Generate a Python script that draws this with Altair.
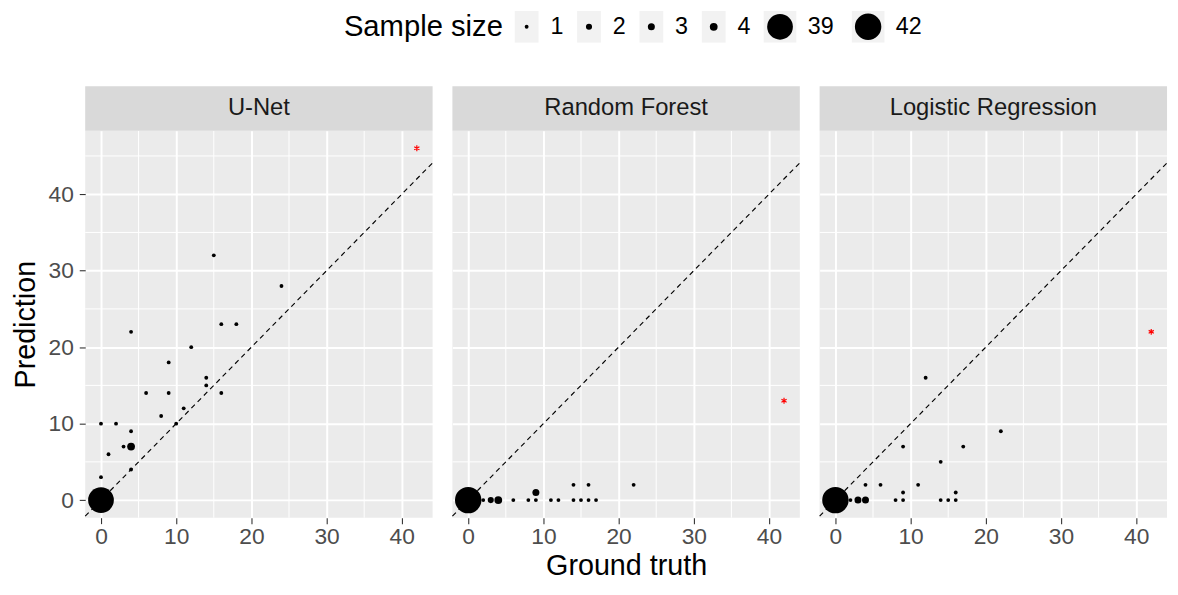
import altair as alt
import pandas as pd

FONT = "Liberation Sans"

models = ["U-Net", "Random Forest", "Logistic Regression"]

# U-Net
unet_gt   = [0, 0, 0, 1, 2, 3, 4, 4, 4, 4, 6, 8, 9, 9, 10, 11, 12, 14, 14, 15, 16, 16, 18, 24]
unet_pred = [0, 3, 10, 6, 10, 7, 7, 9, 4, 22, 14, 11, 14, 18, 10, 12, 20, 16, 15, 32, 14, 23, 23, 28]
unet_n    = [39, 1, 1, 1, 1, 1, 4, 1, 1, 1, 1, 1, 1, 1, 1, 1, 1, 1, 1, 1, 1, 1, 1, 1]

# Random Forest
rf_gt   = [0, 2, 3, 4, 6, 8, 9, 9, 11, 12, 14, 14, 15, 16, 16, 17, 22]
rf_pred = [0, 0, 0, 0, 0, 0, 0, 1, 0, 0, 0, 2, 0, 0, 2, 0, 2]
rf_n    = [42, 1, 2, 4, 1, 1, 1, 3, 1, 1, 1, 1, 1, 1, 1, 1, 1]

# Logistic Regression
lr_gt   = [0, 2, 3, 4, 4, 6, 8, 9, 9, 9, 11, 12, 14, 14, 15, 16, 16, 17, 22]
lr_pred = [0, 0, 0, 0, 2, 2, 0, 0, 1, 7, 2, 16, 0, 5, 0, 0, 1, 7, 9]
lr_n    = [42, 1, 3, 3, 1, 1, 1, 1, 1, 1, 1, 1, 1, 1, 1, 1, 1, 1, 1]

# highlighted (red) cases
red_gt   = [42, 42, 42]
red_pred = [46, 13, 22]

size_levels = [1, 2, 3, 4, 39, 42]
size_labels = ["1", "2", "3", "4", "39", "42"]

x_major = [0, 10, 20, 30, 40]
y_major = [0, 10, 20, 30, 40]
x_minor = [5, 15, 25, 35]
y_minor = [5, 15, 25, 35, 45]

# ---------------------------------------------------------------------------
frames = []
for m, gx, py, nn in [(models[0], unet_gt, unet_pred, unet_n),
                      (models[1], rf_gt, rf_pred, rf_n),
                      (models[2], lr_gt, lr_pred, lr_n)]:
    frames.append(pd.DataFrame({"model": m, "gt": gx, "pred": py, "n": nn}))
points_df = pd.concat(frames, ignore_index=True)
red_df = pd.DataFrame({"model": models, "gt": red_gt, "pred": red_pred})


def expand(vals, mult=0.05):
    lo, hi = min(vals), max(vals)
    pad = (hi - lo) * mult
    return [lo - pad, hi + pad]


x_dom = expand(unet_gt + rf_gt + lr_gt + red_gt)
y_dom = expand(unet_pred + rf_pred + lr_pred + red_pred)

W = 351
H = 391
STRIP = 45

xs = alt.Scale(domain=x_dom, nice=False, zero=False)
ys = alt.Scale(domain=y_dom, nice=False, zero=False)
size_scale = alt.Scale(type="linear", domain=size_levels, range=[15, 38, 50, 62, 676, 713], zero=False, nice=False)

ASTERISK = "M0,-1L0,1M-0.87,-0.5L0.87,0.5M-0.87,0.5L0.87,-0.5"
KEY_SMALL = "M-0.75,-1L0.75,-1L0.75,1L-0.75,1Z"
KEY_BIG = "M-1.03,-1L1.03,-1L1.03,1L-1.03,1Z"


def panel(i, name):
    if i == 1:
        xaxis = alt.Axis(values=x_major, title="Ground truth", grid=True, labelPadding=2, titlePadding=3)
    else:
        xaxis = alt.Axis(values=x_major, title=None, grid=True, labelPadding=2)
    if i == 0:
        yaxis = alt.Axis(values=y_major, title="Prediction", grid=True, labelPadding=6, titlePadding=8)
    else:
        yaxis = alt.Axis(values=y_major, title=None, grid=True, labels=False, ticks=False)

    minor_x = alt.Chart(pd.DataFrame({"gt": x_minor})).mark_rule(
        color="white", strokeWidth=1).encode(x=alt.X("gt:Q", scale=xs, axis=xaxis))
    minor_y = alt.Chart(pd.DataFrame({"pred": y_minor})).mark_rule(
        color="white", strokeWidth=1).encode(y=alt.Y("pred:Q", scale=ys, axis=yaxis))

    pts = points_df[points_df.model == name]
    base = alt.Chart(pts).mark_circle(color="black", opacity=1).encode(
        x=alt.X("gt:Q", scale=xs, axis=xaxis),
        y=alt.Y("pred:Q", scale=ys, axis=yaxis),
        size=alt.Size("n:Q", scale=size_scale, legend=None),
    )

    ab = alt.Chart(pd.DataFrame({"gt": x_dom, "pred": x_dom})).mark_line(
        color="black", strokeDash=[5, 4], strokeWidth=1.15).encode(
        x=alt.X("gt:Q", scale=xs, axis=xaxis), y=alt.Y("pred:Q", scale=ys, axis=yaxis))

    red = alt.Chart(red_df[red_df.model == name]).mark_point(
        shape=ASTERISK, filled=False, color="#FF0000", strokeWidth=1.2, size=36, opacity=1).encode(
        x=alt.X("gt:Q", scale=xs, axis=xaxis), y=alt.Y("pred:Q", scale=ys, axis=yaxis))

    strip_df = pd.DataFrame({"model": [name]})
    strip_rect = alt.Chart(strip_df).mark_rect(color="#D9D9D9").encode(
        x=alt.value(0), x2=alt.value(W), y=alt.value(-STRIP), y2=alt.value(0))
    strip_text = alt.Chart(strip_df).mark_text(
        font=FONT, fontSize=24, color="#1A1A1A", align="center", baseline="middle").encode(
        x=alt.value(W / 2), y=alt.value(-STRIP / 2), text="model:N")

    return alt.layer(minor_x, minor_y, base, ab, red, strip_rect, strip_text).properties(
        width=W, height=H, view=alt.ViewBackground(fill="#EBEBEB", stroke=None))


row = alt.hconcat(*[panel(i, m) for i, m in enumerate(models)], spacing=14)

# ---------------------------------------------------------------------------
# legend (keys on a grey background, as in the original)
leg_df = pd.DataFrame({"n": size_levels, "label": size_labels})
leg_x = alt.X("n:Q", scale=alt.Scale(domain=size_levels, range=[446, 509, 572, 635, 702, 791],
                                     zero=False, nice=False), axis=None)
LY = 16
keys_small = alt.Chart(leg_df).transform_filter(alt.datum.n < 10).mark_point(
    shape=KEY_SMALL, filled=True, color="#F2F2F2", size=1024, opacity=1, strokeWidth=0).encode(
    x=leg_x, y=alt.value(LY))
keys_big = alt.Chart(leg_df).transform_filter(alt.datum.n >= 10).mark_point(
    shape=KEY_BIG, filled=True, color="#F2F2F2", size=1024, opacity=1, strokeWidth=0).encode(
    x=leg_x, y=alt.value(LY))
dots = alt.Chart(leg_df).mark_circle(color="black", opacity=1).encode(
    x=leg_x, y=alt.value(LY), size=alt.Size("n:Q", scale=size_scale, legend=None))
labs_small = alt.Chart(leg_df).transform_filter(alt.datum.n < 10).mark_text(
    align="left", baseline="middle", dx=24, font=FONT, fontSize=23.5, color="black").encode(
    x=leg_x, y=alt.value(LY), text="label:N")
labs_big = alt.Chart(leg_df).transform_filter(alt.datum.n >= 10).mark_text(
    align="left", baseline="middle", dx=28, font=FONT, fontSize=23.5, color="black").encode(
    x=leg_x, y=alt.value(LY), text="label:N")
ttl = alt.Chart(pd.DataFrame({"t": ["Sample size"]})).mark_text(
    align="right", baseline="middle", font=FONT, fontSize=29.5, color="black").encode(
    x=alt.value(422), y=alt.value(LY), text="t:N")
legend = alt.layer(keys_small, keys_big, dots, labs_small, labs_big, ttl).properties(width=1000, height=32)

chart = alt.vconcat(legend, row, spacing=44).properties(
    padding={"left": 3, "top": 0, "right": 0, "bottom": 0}
).configure_view(stroke=None).configure_axis(
    labelFont=FONT, labelFontSize=23, labelColor="#4D4D4D",
    tickColor="#333333", tickSize=6, tickWidth=1.1,
    domain=False, gridColor="white", gridWidth=2,
    titleFont=FONT, titleFontSize=29, titleFontWeight="normal", titleColor="black",
)

chart.save("out.html", embed_options={"renderer": "svg", "actions": False})
